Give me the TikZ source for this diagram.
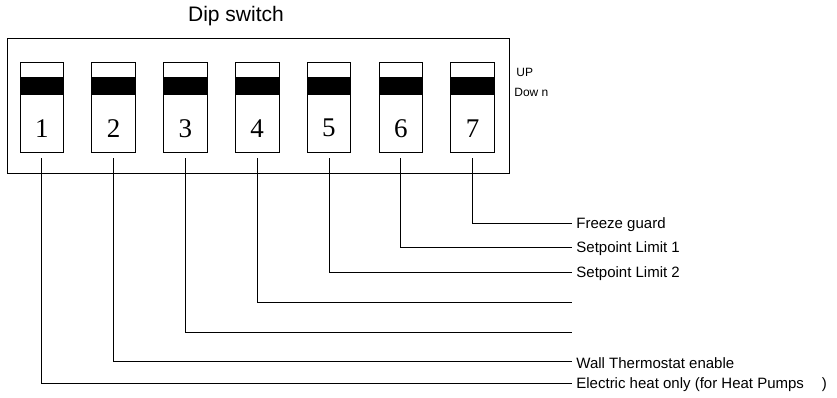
\documentclass[tikz,border=0pt]{standalone}
\usepackage{fontspec}
\setmainfont{Liberation Sans}
\newfontfamily\numfont{Liberation Serif}
\usetikzlibrary{positioning}

\begin{document}
\begin{tikzpicture}[
  x=1pt, y=-1pt,
  line width=0.8pt,
  housing/.style={draw, minimum width=502pt, minimum height=135pt, inner sep=0pt},
  switchbox/.style={draw, minimum width=43.5pt, minimum height=89.5pt, inner sep=0pt,
    path picture={\fill ([yshift=-14.5pt]path picture bounding box.north west) rectangle ([yshift=-32.5pt]path picture bounding box.north east);}},
  switchnum/.style={font=\numfont\fontsize{27}{29}\selectfont, yshift=-21pt},
  tag/.style={anchor=west, inner xsep=4pt, inner ysep=0pt, font=\fontsize{15}{18}\selectfont},
  side/.style={anchor=west, inner sep=0pt, font=\fontsize{12}{14}\selectfont},
  lead/.style={line width=0.8pt}
]
\useasboundingbox (0,0) rectangle (837,397);
\node[font=\fontsize{21}{24}\selectfont] (title) at (236,16) {Dip switch};
\node[housing] (base) at (258.2,105.8) {};
% switches
\node[switchbox, label={[switchnum]center:1}] (sw1) at (41.75,107.25) {};
\node[switchbox, label={[switchnum]center:2}] (sw2) at (113.55,107.25) {};
\node[switchbox, label={[switchnum]center:3}] (sw3) at (185.35,107.25) {};
\node[switchbox, label={[switchnum]center:4}] (sw4) at (257.15,107.25) {};
\node[switchbox, label={[switchnum]center:5}] (sw5) at (328.95,107.25) {};
\node[switchbox, label={[switchnum]center:6}] (sw6) at (400.75,107.25) {};
\node[switchbox, label={[switchnum]center:7}] (sw7) at (472.55,107.25) {};
\node[side] (up) at (516,72) {UP};
\node[side] (down) at (514,92) {Dow n};
% line ends
\coordinate (end7) at (572,223);
\coordinate (end6) at (572,247);
\coordinate (end5) at (572,272);
\coordinate (end4) at (572,302);
\coordinate (end3) at (572,332);
\coordinate (end2) at (572,361);
\coordinate (end1) at (572,383);
\node[tag, right=0pt of end7, yshift=-2pt] (freeze) {Freeze guard};
\node[tag, right=0pt of end6, yshift=-2pt] (limit1) {Setpoint Limit 1};
\node[tag, right=0pt of end5, yshift=-2pt] (limit2) {Setpoint Limit 2};
\node[tag, right=0pt of end2, yshift=-2pt] (wall) {Wall Thermostat enable};
\node[tag, right=0pt of end1, yshift=-2pt] (electric) {Electric heat only (for Heat Pumps\hspace{18pt})};
\draw[lead] ([yshift=-6pt]sw7.south) |- (end7);
\draw[lead] ([yshift=-6pt]sw6.south) |- (end6);
\draw[lead] ([yshift=-6pt]sw5.south) |- (end5);
\draw[lead] ([yshift=-6pt]sw4.south) |- (end4);
\draw[lead] ([yshift=-6pt]sw3.south) |- (end3);
\draw[lead] ([yshift=-6pt]sw2.south) |- (end2);
\draw[lead] ([yshift=-6pt]sw1.south) |- (end1);
\end{tikzpicture}
\end{document}
